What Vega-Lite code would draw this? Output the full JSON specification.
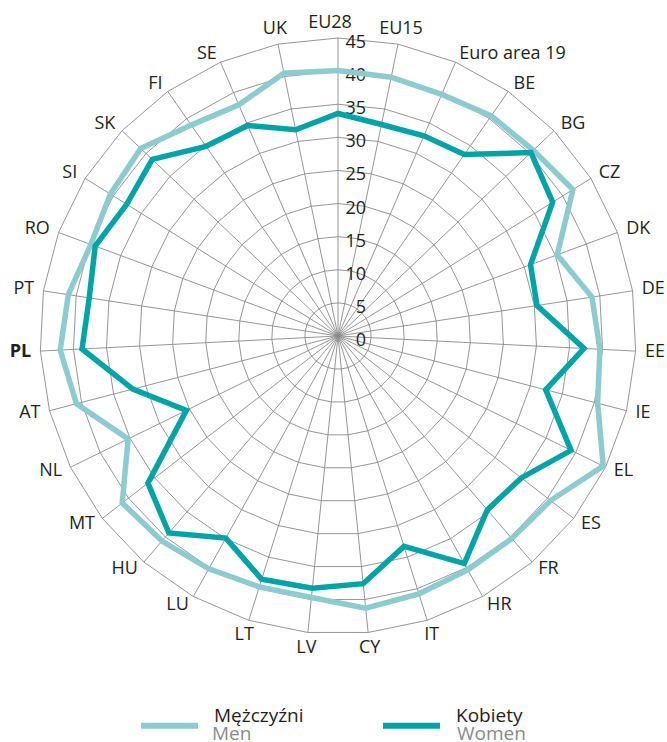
{
  "$schema": "https://vega.github.io/schema/vega-lite/v6.json",
  "width": 596,
  "height": 596,
  "autosize": {"type": "none"},
  "padding": {"left": 40, "top": 38, "right": 31, "bottom": 108},
  "background": "white",
  "config": {"view": {"stroke": null}, "font": "Open Sans", "text": {"font": "Open Sans"}},
  "datasets": {
    "countries": [
      {"country": "EU28", "men": 40.1, "women": 33.6},
      {"country": "EU15", "men": 39.9, "women": 32.6},
      {"country": "Euro area 19", "men": 39.7, "women": 32.9},
      {"country": "BE", "men": 40.5, "women": 33.4},
      {"country": "BG", "men": 40.7, "women": 40.2},
      {"country": "CZ", "men": 41.8, "women": 38.2},
      {"country": "DK", "men": 35.3, "women": 31.0},
      {"country": "DE", "men": 38.8, "women": 30.4},
      {"country": "EE", "men": 39.6, "women": 37.2},
      {"country": "IE", "men": 40.5, "women": 32.4},
      {"country": "EL", "men": 44.6, "women": 39.2},
      {"country": "ES", "men": 40.6, "women": 35.0},
      {"country": "FR", "men": 40.3, "women": 34.6},
      {"country": "HR", "men": 40.4, "women": 39.3},
      {"country": "IT", "men": 40.8, "women": 33.3},
      {"country": "CY", "men": 41.3, "women": 37.6},
      {"country": "LV", "men": 39.7, "women": 38.3},
      {"country": "LT", "men": 39.7, "women": 38.5},
      {"country": "LU", "men": 40.2, "women": 34.9},
      {"country": "HU", "men": 40.8, "women": 39.2},
      {"country": "MT", "men": 41.2, "women": 36.3},
      {"country": "NL", "men": 35.3, "women": 25.5},
      {"country": "AT", "men": 40.8, "women": 32.0},
      {"country": "PL", "men": 42.0, "women": 38.7},
      {"country": "PT", "men": 41.2, "women": 38.0},
      {"country": "RO", "men": 39.8, "women": 39.1},
      {"country": "SI", "men": 40.5, "women": 37.6},
      {"country": "SK", "men": 41.1, "women": 38.7},
      {"country": "FI", "men": 38.8, "women": 34.9},
      {"country": "SE", "men": 38.0, "women": 34.6},
      {"country": "UK", "men": 40.5, "women": 31.8}
    ],
    "ticks": [
      {"v": 0}, {"v": 5}, {"v": 10}, {"v": 15}, {"v": 20},
      {"v": 25}, {"v": 30}, {"v": 35}, {"v": 40}, {"v": 45}
    ]
  },
  "layer": [
    {
      "data": {"name": "countries"},
      "transform": [
        {"window": [{"op": "row_number", "as": "rn"}]},
        {"calculate": "(datum.rn - 1) * 2 * PI / 31", "as": "a"},
        {"calculate": "[5, 10, 15, 20, 25, 30, 35, 40, 45]", "as": "ring"},
        {"flatten": ["ring"]},
        {"calculate": "datum.ring * sin(datum.a)", "as": "gx"},
        {"calculate": "datum.ring * cos(datum.a)", "as": "gy"}
      ],
      "mark": {"type": "line", "interpolate": "linear-closed", "stroke": "#8a8a8a", "strokeWidth": 0.9},
      "encoding": {
        "x": {"field": "gx", "type": "quantitative", "scale": {"domain": [-45, 45], "nice": false, "zero": false}, "axis": null},
        "y": {"field": "gy", "type": "quantitative", "scale": {"domain": [-45, 45], "nice": false, "zero": false}, "axis": null},
        "detail": {"field": "ring", "type": "nominal"},
        "order": {"field": "rn", "type": "quantitative"}
      }
    },
    {
      "data": {"name": "countries"},
      "transform": [
        {"window": [{"op": "row_number", "as": "rn"}]},
        {"calculate": "(datum.rn - 1) * 2 * PI / 31", "as": "a"},
        {"calculate": "45 * sin(datum.a)", "as": "sx"},
        {"calculate": "45 * cos(datum.a)", "as": "sy"}
      ],
      "mark": {"type": "rule", "stroke": "#8a8a8a", "strokeWidth": 0.9},
      "encoding": {
        "x": {"field": "sx", "type": "quantitative"},
        "y": {"field": "sy", "type": "quantitative"},
        "x2": {"datum": 0},
        "y2": {"datum": 0}
      }
    },
    {
      "data": {"name": "ticks"},
      "mark": {"type": "text", "align": "right", "baseline": "middle", "dx": 28, "dy": 5, "fontSize": 18, "color": "#231f20"},
      "encoding": {
        "x": {"datum": 0, "type": "quantitative"},
        "y": {"field": "v", "type": "quantitative"},
        "text": {"field": "v", "type": "quantitative"}
      }
    },
    {
      "data": {"name": "countries"},
      "transform": [
        {"window": [{"op": "row_number", "as": "rn"}]},
        {"calculate": "(datum.rn - 1) * 2 * PI / 31", "as": "a"},
        {"fold": ["men", "women"], "as": ["series", "value"]},
        {"calculate": "datum.series == 'men' ? 'Mężczyźni' : 'Kobiety'", "as": "pl"},
        {"calculate": "datum.series == 'men' ? 'Men' : 'Women'", "as": "en"},
        {"calculate": "datum.value * sin(datum.a)", "as": "px"},
        {"calculate": "datum.value * cos(datum.a)", "as": "py"}
      ],
      "mark": {"type": "line", "interpolate": "linear-closed", "strokeWidth": 5.5, "strokeJoin": "miter"},
      "encoding": {
        "x": {"field": "px", "type": "quantitative"},
        "y": {"field": "py", "type": "quantitative"},
        "order": {"field": "rn", "type": "quantitative"},
        "color": {
          "field": "pl", "type": "nominal",
          "scale": {"domain": ["Mężczyźni", "Kobiety"], "range": ["#8ccbd0", "#00a3a6"]},
          "legend": {
            "title": null, "orient": "none", "direction": "horizontal",
            "legendX": 98, "legendY": 656,
            "symbolType": "stroke", "symbolSize": 3249, "symbolStrokeWidth": 6,
            "labelFontSize": 19, "labelColor": "#231f20", "labelOffset": 13,
            "labelBaseline": "bottom", "columnPadding": 67, "labelFont": "Open Sans"
          }
        },
        "opacity": {
          "field": "en", "type": "nominal",
          "scale": {"domain": ["Men", "Women"], "range": [1, 1]},
          "legend": {
            "title": null, "orient": "none", "direction": "horizontal",
            "legendX": 102, "legendY": 658,
            "symbolType": "stroke", "symbolSize": 3249, "symbolStrokeWidth": 0,
            "labelFontSize": 19, "labelColor": "#8a8a8a", "labelOffset": 13,
            "labelBaseline": "top", "columnPadding": 135, "labelFont": "Open Sans"
          }
        }
      }
    },
    {
      "data": {"name": "countries"},
      "transform": [
        {"window": [{"op": "row_number", "as": "rn"}]},
        {"calculate": "(datum.rn - 1) * 2 * PI / 31", "as": "a"},
        {"calculate": "sin(datum.a)", "as": "s"},
        {"calculate": "abs(datum.s) > 0.35 ? 46.4 : 47.3", "as": "lr"},
        {"calculate": "datum.lr * datum.s", "as": "lx"},
        {"calculate": "datum.lr * cos(datum.a)", "as": "ly"}
      ],
      "mark": {
        "type": "text", "baseline": "middle", "fontSize": 18, "color": "#231f20",
        "align": {"expr": "datum.s > 0.35 ? 'left' : (datum.s < -0.35 ? 'right' : 'center')"},
        "dx": {"expr": "datum.country == 'EU28' ? -8 : 0"},
        "fontWeight": {"expr": "datum.country == 'PL' ? 'bold' : 'normal'"}
      },
      "encoding": {
        "x": {"field": "lx", "type": "quantitative"},
        "y": {"field": "ly", "type": "quantitative"},
        "text": {"field": "country", "type": "nominal"}
      }
    }
  ]
}
